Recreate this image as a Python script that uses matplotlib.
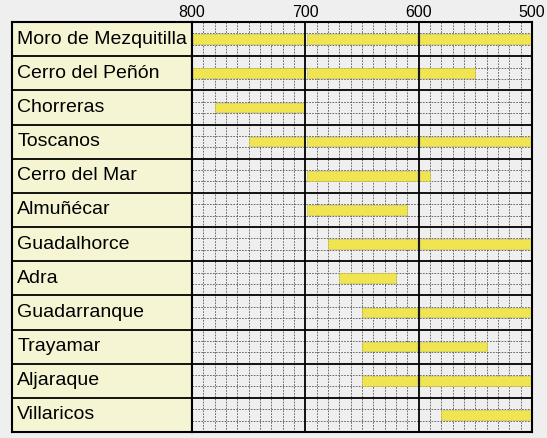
import matplotlib.pyplot as plt

SITES = ["Moro de Mezquitilla", "Cerro del Peñón", "Chorreras", "Toscanos",
         "Cerro del Mar", "Almuñécar", "Guadalhorce", "Adra",
         "Guadarranque", "Trayamar", "Aljaraque", "Villaricos"]
START = [800, 800, 780, 750, 700, 700, 680, 670, 650, 650, 650, 580]
END = [500, 550, 700, 500, 590, 610, 500, 620, 500, 540, 500, 500]
CENTURIES = [800, 700, 600, 500]

BG = "#efefef"
CELL = "#f5f5d3"
BAR = "#f0e450"
W, H = 547, 438

fig = plt.figure(figsize=(W / 100, H / 100), dpi=100, facecolor=BG)
plt.rcParams['font.family'] = ['Liberation Sans', 'DejaVu Sans']

n = len(SITES)
ax_lab = fig.add_axes([12 / W, 6 / H, 180 / W, 410 / H])
ax = fig.add_axes([192 / W, 6 / H, 340 / W, 410 / H])

# label column
ax_lab.set_xlim(0, 1)
ax_lab.set_ylim(n, 0)
ax_lab.set_facecolor(CELL)
for i, name in enumerate(SITES):
    ax_lab.text(0.03, i + 0.5, name, fontsize=14, va="center", ha="left")
    ax_lab.axhline(i, color="black", lw=1.3)
ax_lab.set_xticks([])
ax_lab.set_yticks([])
for s in ax_lab.spines.values():
    s.set_linewidth(1.5)

# grid area
ax.set_facecolor(BG)
ax.set_xlim(800, 500)
ax.set_ylim(n, 0)
for v in range(510, 800, 10):
    if v % 100:
        ax.axvline(v, color="#555555", lw=0.6, ls=(0, (2, 1.5)), zorder=1)
for i in range(n):
    for f in (1 / 3, 2 / 3):
        ax.axhline(i + f, color="#555555", lw=0.6, ls=(0, (2, 1.5)), zorder=1)
    ax.axhline(i, color="black", lw=1.3, zorder=3)
for c in CENTURIES[1:-1]:
    ax.axvline(c, color="black", lw=1.3, zorder=3)

# bars, broken at each century line
gap = 1.3
for i in range(n):
    for hi, lo in zip(CENTURIES[:-1], CENTURIES[1:]):
        a = min(START[i], hi)
        b = max(END[i], lo)
        if a <= b:
            continue
        if a == hi:
            a -= gap
        if b == lo:
            b += gap
        ax.barh(i + 0.5, b - a, left=a, height=0.28, color=BAR,
                edgecolor="#c8bf40", lw=0.4, zorder=2)

ax.xaxis.tick_top()
ax.set_xticks(CENTURIES)
ax.set_xticklabels([str(c) for c in CENTURIES], fontsize=11.5)
ax.tick_params(axis="x", length=0, pad=1.5)
ax.set_yticks([])
for s in ax.spines.values():
    s.set_linewidth(1.5)

plt.savefig("out.png", dpi=100, facecolor=BG)
